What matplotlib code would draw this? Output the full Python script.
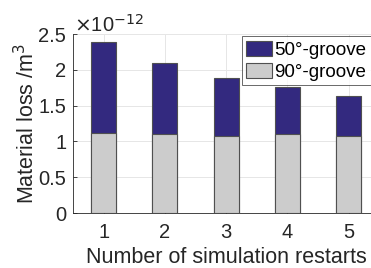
import matplotlib
matplotlib.use('Agg')
import matplotlib.pyplot as plt
import numpy as np

plt.rcParams['font.family'] = ['Liberation Sans', 'DejaVu Sans']

restarts = [1, 2, 3, 4, 5]
loss_50 = [2.39, 2.09, 1.885, 1.755, 1.635]   # x1e-12 m^3
loss_90 = [1.115, 1.11, 1.08, 1.10, 1.08]

fig = plt.figure(figsize=(3.71, 2.68), dpi=100)
ax = fig.add_axes([0.197, 0.205, 0.825, 0.668])

# bars are overlaid, not stacked
ax.bar(restarts, loss_50, width=0.41, color='#33297f', edgecolor='#505050', linewidth=0.8, label='50°-groove', zorder=3)
ax.bar(restarts, loss_90, width=0.41, color='#cccccc', edgecolor='#505050', linewidth=0.8, label='90°-groove', zorder=4)

ax.set_xlim(0.5, 5.5)
ax.set_ylim(0, 2.5)
ax.set_xticks(restarts)
ax.set_yticks([0, 0.5, 1, 1.5, 2, 2.5])
ax.set_yticklabels(['0', '0.5', '1', '1.5', '2', '2.5'])
ax.tick_params(direction='in', length=3, labelsize=14.5, colors='#262626', width=0.6)
ax.tick_params(axis='x', pad=7)
ax.tick_params(axis='y', pad=5)
ax.grid(True, color='#e6e6e6', linewidth=0.7, zorder=0)
ax.set_axisbelow(True)
for s in ['top', 'right']:
    ax.spines[s].set_visible(False)
for s in ['left', 'bottom']:
    ax.spines[s].set_color('#262626')
    ax.spines[s].set_linewidth(0.6)

ax.set_xlabel('Number of simulation restarts', fontsize=15.5, color='#262626', labelpad=4)
ax.set_ylabel('Material loss /m$^3$', fontsize=15.5, color='#262626', labelpad=-1)
fig.text(0.2, 0.88, r'$\times$10$^{-12}$', fontsize=14.5, color='#262626')

leg = ax.legend(loc='upper left', bbox_to_anchor=(0.551, 0.99), fontsize=13.5, frameon=True,
                fancybox=False, edgecolor='#262626', handlelength=1.38, handleheight=0.9,
                handletextpad=0.12, borderpad=0.25, labelspacing=0.2, borderaxespad=0)
leg.get_frame().set_linewidth(0.6)
leg.set_zorder(10)

fig.savefig('out.png', dpi=100)
